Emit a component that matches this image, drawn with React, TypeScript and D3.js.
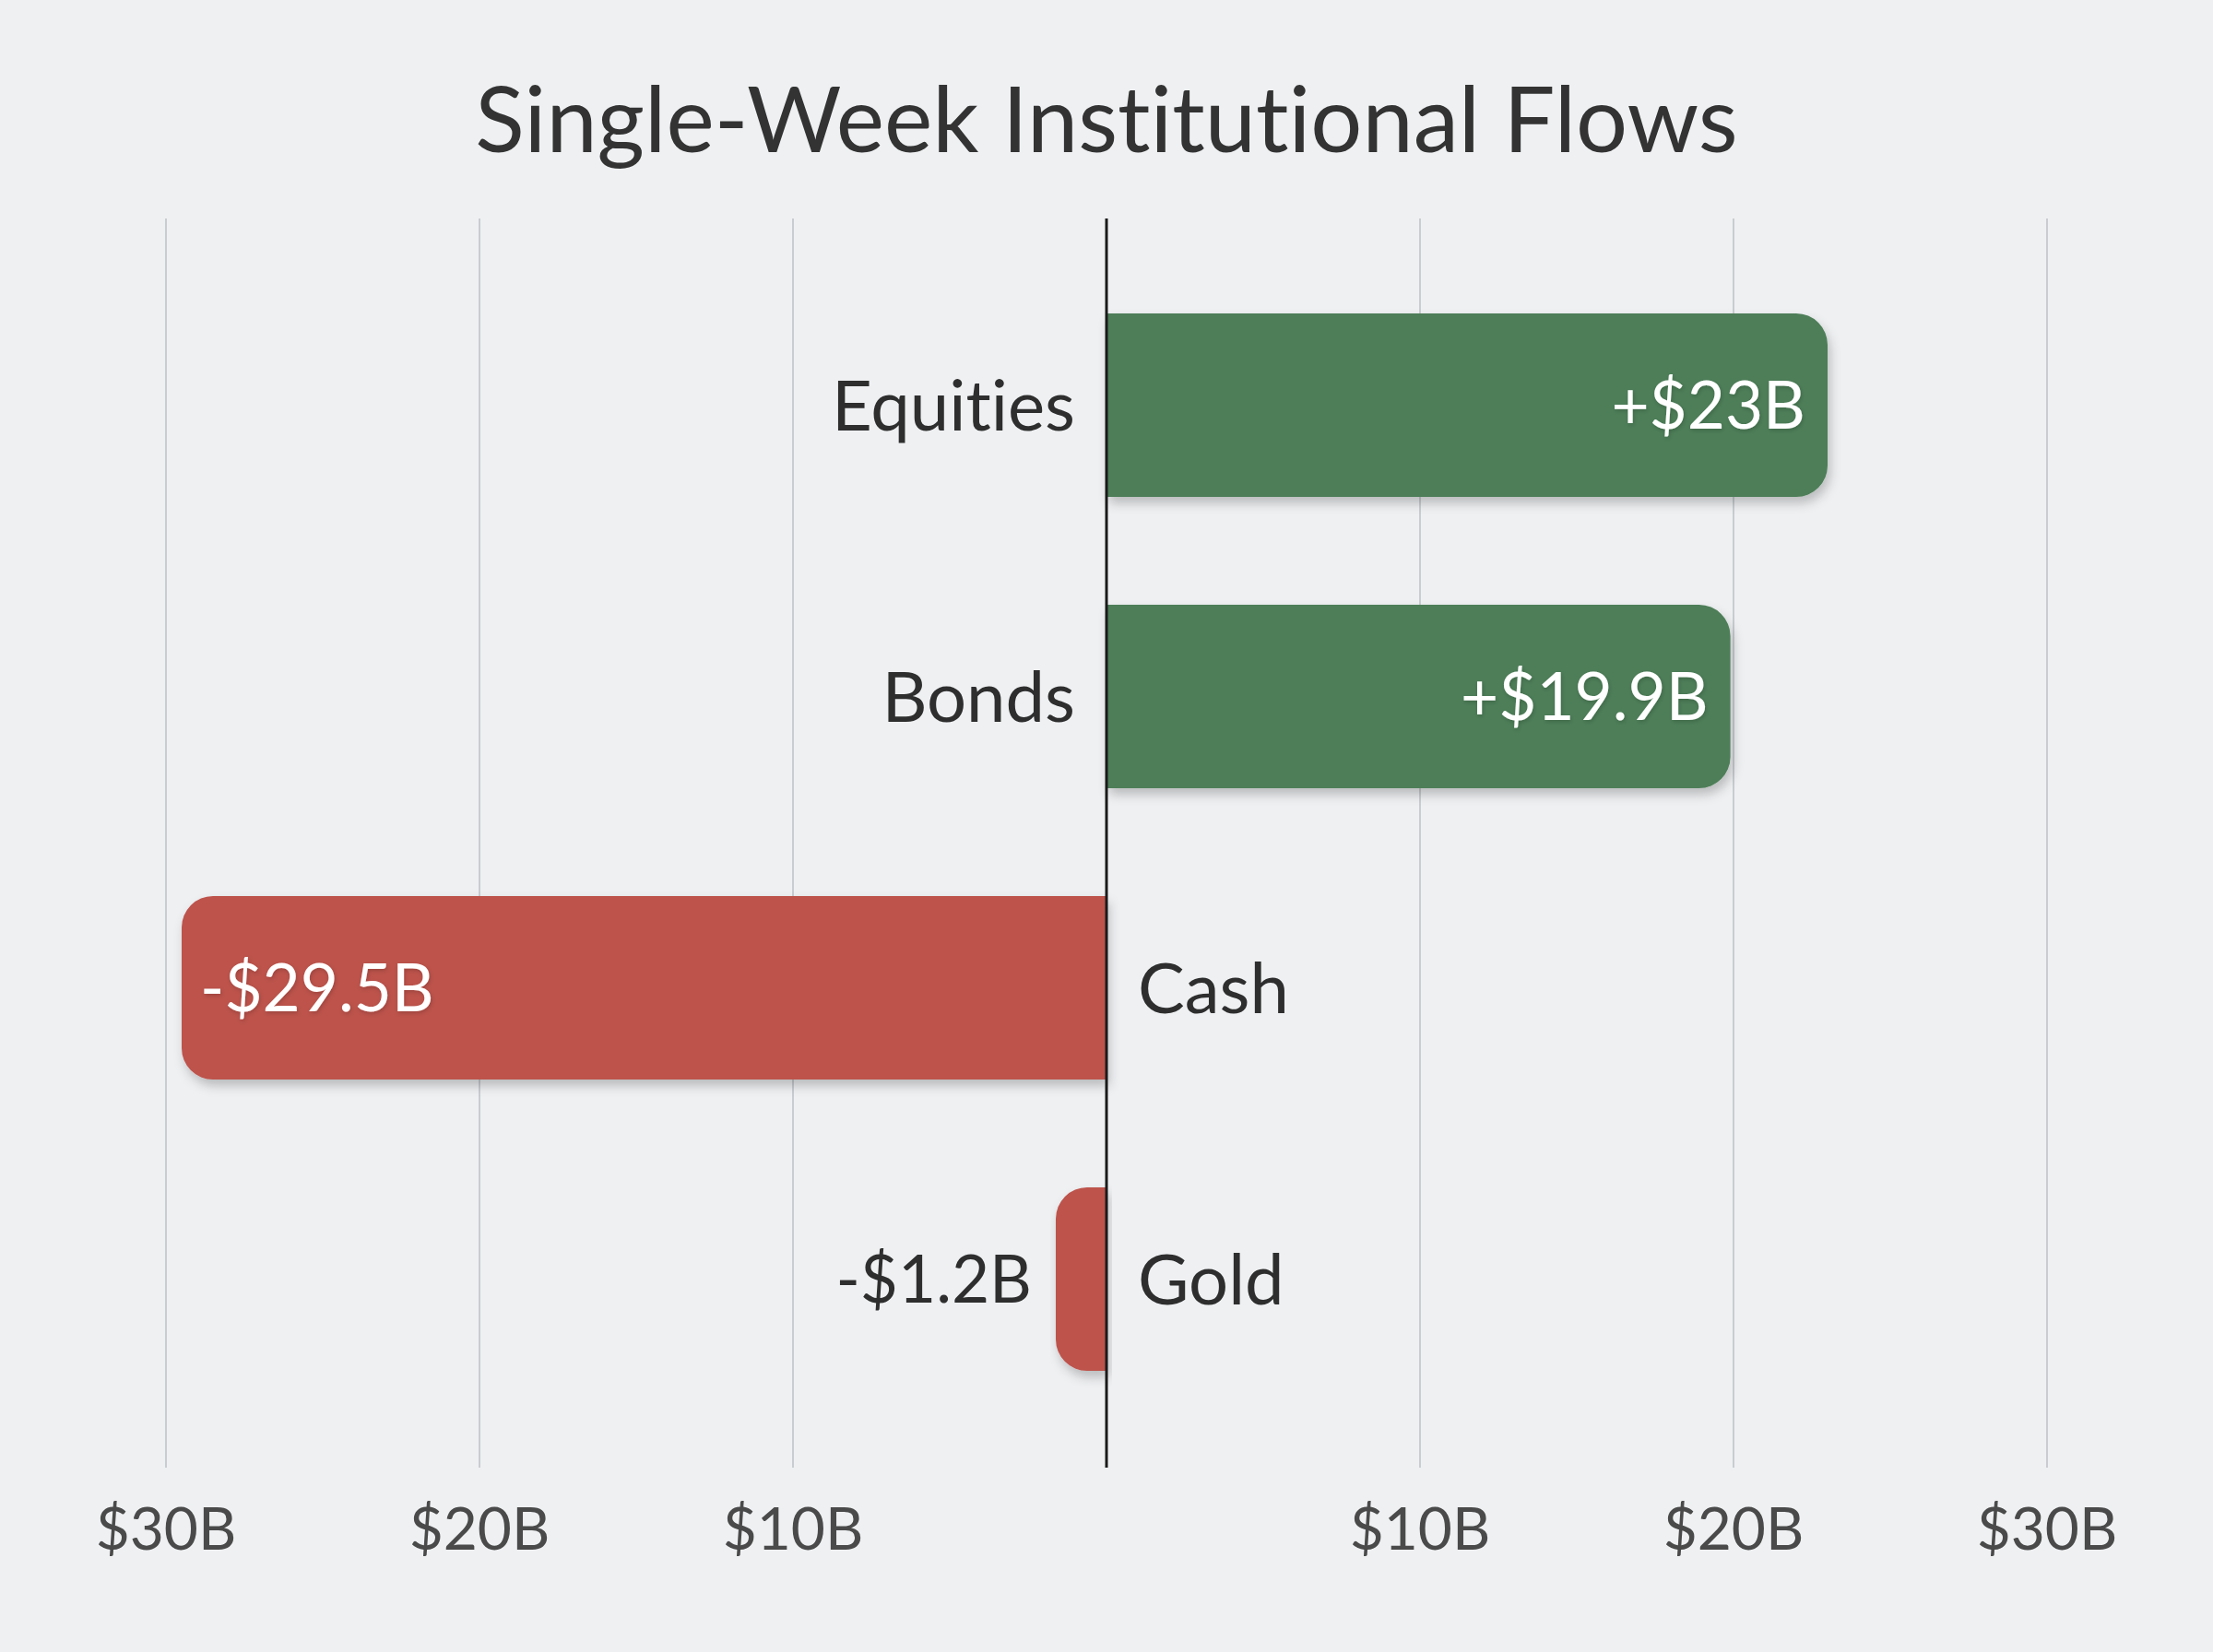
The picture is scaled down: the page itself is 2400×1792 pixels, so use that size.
import React from "react";
import * as d3 from "d3";

const categories = ["Equities", "Bonds", "Cash", "Gold"];
const values = [23, 19.9, -29.5, -1.2];
const valueLabels = ["+$23B", "+$19.9B", "-$29.5B", "-$1.2B"];
const tickValues = [-30, -20, -10, 10, 20, 30];
const tickLabels = ["$30B", "$20B", "$10B", "$10B", "$20B", "$30B"];
const title = "Single-Week Institutional Flows";

const W = 2400;
const H = 1792;
const FONT = "Lato, 'Open Sans', sans-serif";
const GREEN = "#4e7e58";
const RED = "#bd524c";
const MIN_BAR_PX = 55;

function barPath(x0: number, x1: number, y: number, h: number, r: number) {
  const neg = x1 < x0;
  const w = Math.abs(x1 - x0);
  const rr = Math.min(r, w, h / 2);
  if (!neg) {
    return `M${x0},${y} H${x1 - rr} A${rr},${rr} 0 0 1 ${x1},${y + rr} V${y + h - rr} A${rr},${rr} 0 0 1 ${x1 - rr},${y + h} H${x0} Z`;
  }
  return `M${x0},${y} H${x1 + rr} A${rr},${rr} 0 0 0 ${x1},${y + rr} V${y + h - rr} A${rr},${rr} 0 0 0 ${x1 + rr},${y + h} H${x0} Z`;
}

const textStyle = { fontVariantLigatures: "none" as const, fontKerning: "normal" as const };

export default function App() {
  const x = d3.scaleLinear().domain([-30, 30]).range([180, 2220]);
  const y = d3
    .scaleBand<string>()
    .domain(categories)
    .range([182, 1645])
    .paddingInner(0.37)
    .paddingOuter(0.5);
  const gridTop = 237;
  const gridBottom = 1592;
  const bw = y.bandwidth();

  return (
    <svg
      width={W}
      height={H}
      viewBox={`0 0 ${W} ${H}`}
      style={{ position: "absolute", left: 0, top: 0, display: "block" }}
    >
      <defs>
        <filter id="shadow" x="-10%" y="-20%" width="120%" height="150%">
          <feDropShadow dx="3" dy="7" stdDeviation="6" floodColor="#000" floodOpacity="0.22" />
        </filter>
        <filter id="tshadow" x="-10%" y="-30%" width="120%" height="160%">
          <feDropShadow dx="1" dy="2" stdDeviation="2" floodColor="#000" floodOpacity="0.18" />
        </filter>
      </defs>
      <rect x={0} y={0} width={W} height={H} fill="#eef0f2" />
      <text
        x={1200}
        y={165}
        textAnchor="middle"
        fontFamily={FONT}
        fontSize={99}
        fill="#333333"
        style={textStyle}
      >
        {title}
      </text>
      {tickValues.map((t, i) => (
        <g key={i}>
          <line
            x1={x(t)}
            x2={x(t)}
            y1={gridTop}
            y2={gridBottom}
            stroke="#c9ccd0"
            strokeWidth={2}
          />
          <text
            x={x(t)}
            y={1681}
            textAnchor="middle"
            fontFamily={FONT}
            fontSize={64}
            fill="#4a4a4a"
            style={textStyle}
          >
            {tickLabels[i]}
          </text>
        </g>
      ))}
      {categories.map((c, i) => {
        const v = values[i];
        const yy = y(c) as number;
        const x0 = x(0);
        let x1 = x(v);
        const pos = v >= 0;
        if (Math.abs(x1 - x0) < MIN_BAR_PX) x1 = pos ? x0 + MIN_BAR_PX : x0 - MIN_BAR_PX;
        const w = Math.abs(x1 - x0);
        const inside = w > 200;
        const cy = yy + bw / 2;
        let vx: number;
        let anchor: "start" | "end";
        let vfill: string;
        if (pos) {
          vx = x1 - 24;
          anchor = "end";
          vfill = "#ffffff";
        } else if (inside) {
          vx = x1 + 20;
          anchor = "start";
          vfill = "#ffffff";
        } else {
          vx = x1 - 26;
          anchor = "end";
          vfill = "#2e2e2e";
        }
        return (
          <g key={c}>
            <path
              d={barPath(x0, x1, yy, bw, 34)}
              fill={pos ? GREEN : RED}
              filter="url(#shadow)"
            />
            <text
              x={vx}
              y={cy}
              dy="0.36em"
              textAnchor={anchor}
              fontFamily={FONT}
              fontSize={71}
              fill={vfill}
              filter={vfill === "#ffffff" ? "url(#tshadow)" : undefined}
              style={textStyle}
            >
              {valueLabels[i]}
            </text>
            <text
              x={pos ? x0 - 34 : x0 + 34}
              y={cy}
              dy="0.36em"
              textAnchor={pos ? "end" : "start"}
              fontFamily={FONT}
              fontSize={76}
              fill="#2e2e2e"
              style={textStyle}
            >
              {c}
            </text>
          </g>
        );
      })}
      <line
        x1={x(0)}
        x2={x(0)}
        y1={gridTop}
        y2={gridBottom}
        stroke="#1a1a1a"
        strokeWidth={3}
      />
    </svg>
  );
}
